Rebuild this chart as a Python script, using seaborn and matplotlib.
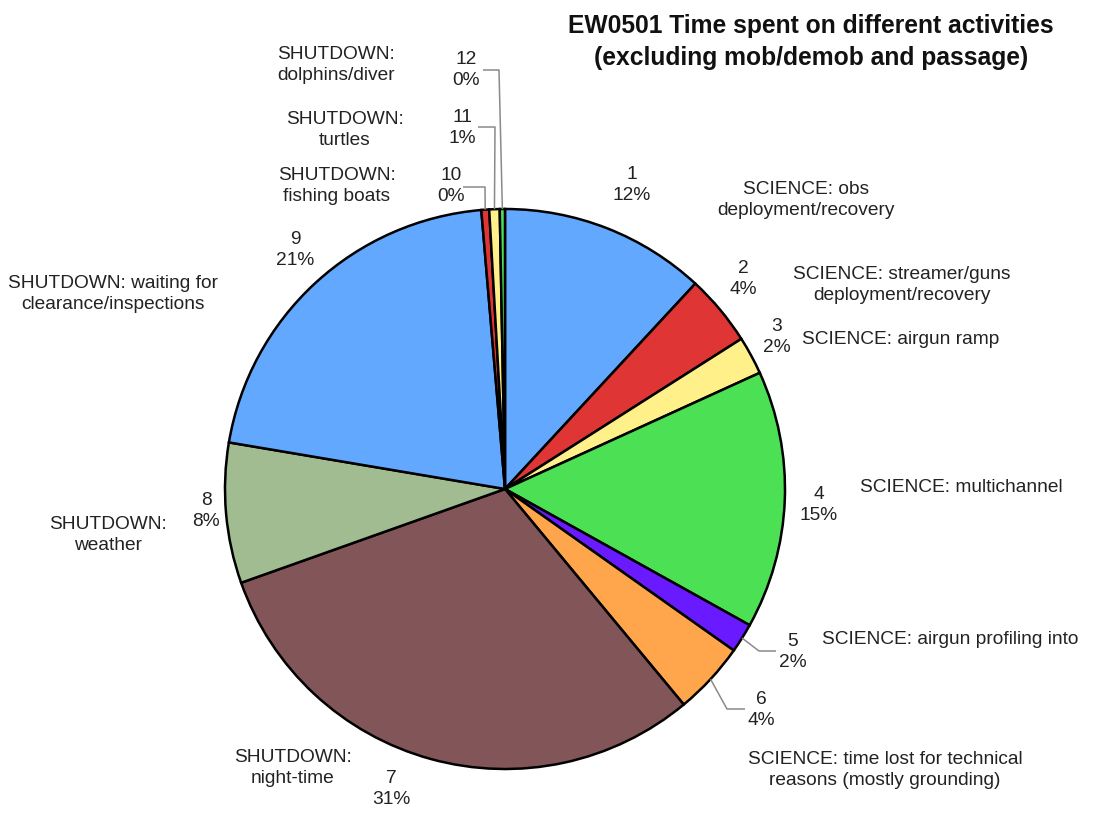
import numpy as np
import matplotlib
matplotlib.use("Agg")
import matplotlib.pyplot as plt
import seaborn as sns

# Activity breakdown for cruise EW0501 (percent of time)
numbers = ["1", "2", "3", "4", "5", "6", "7", "8", "9", "10", "11", "12"]
shares = [11.9, 4.1, 2.2, 14.9, 1.7, 4.2, 30.6, 8.1, 21.0, 0.45, 0.6, 0.3]
categories = [
    "SCIENCE: obs\ndeployment/recovery",
    "SCIENCE: streamer/guns\ndeployment/recovery",
    "SCIENCE: airgun ramp",
    "SCIENCE: multichannel",
    "SCIENCE: airgun profiling into",
    "SCIENCE: time lost for technical\nreasons (mostly grounding)",
    "SHUTDOWN:\nnight-time",
    "SHUTDOWN:\nweather",
    "SHUTDOWN: waiting for\nclearance/inspections",
    "SHUTDOWN:\nfishing boats",
    "SHUTDOWN:\nturtles",
    "SHUTDOWN:\ndolphins/diver",
]
title = "EW0501 Time spent on different activities\n(excluding mob/demob and passage)"

slice_colors = ["#63A8FF", "#E03535", "#FFF08A", "#4CE054", "#6A1AFF", "#FFA64D",
                "#825559", "#A0BC90", "#63A8FF", "#E03535", "#FFF08A", "#4CE054"]

sns.set_theme(style="white")
plt.rcParams["font.family"] = ["Liberation Sans", "DejaVu Sans"]

W, H = 1112, 821
fig = plt.figure(figsize=(W / 100, H / 100), dpi=100)
ax = fig.add_axes([0, 0, 1, 1])


def py(y):
    # convert a top-down pixel row into the axes' upward coordinate
    return H - y


cx, cy, r = 505, py(489), 280
palette = sns.color_palette(slice_colors)
wedges, _ = ax.pie(shares, colors=palette, startangle=90, counterclock=False,
                   center=(cx, cy), radius=r, frame=True,
                   wedgeprops=dict(edgecolor="black", linewidth=1.8))
ax.set_xlim(0, W)
ax.set_ylim(0, H)
ax.set_aspect("equal")
ax.axis("off")

total = sum(shares)
pct_labels = [f"{n}\n{round(v / total * 100):.0f}%" for n, v in zip(numbers, shares)]

# layout: (x, y) of the number/percent label and of the category label (pixel rows)
num_pos = [(632, 185), (743, 279), (777, 337), (819, 505), (793, 652), (761, 710),
           (391, 789), (206, 511), (295, 250), (451, 186), (462, 128), (466, 70)]
cat_pos = [(806, 200), (902, 285), (901, 339), (961, 487), (950, 640), (885, 770),
           (293, 768), (108, 535), (113, 294), (337, 186), (345, 130), (336, 65)]

fs = 13.8
for (x, y), txt in zip(num_pos, pct_labels):
    ax.text(x, py(y), txt, ha="center", va="center", fontsize=fs,
            color="#222222", linespacing=1.35)
for (x, y), txt in zip(cat_pos, categories):
    ax.text(x, py(y), txt, ha="center", va="center", fontsize=fs,
            color="#222222", linespacing=1.35)


# leader lines for the small wedges
def edge_point(w):
    ang = np.deg2rad((w.theta1 + w.theta2) / 2)
    return cx + r * np.cos(ang), cy + r * np.sin(ang)


leaders = {4: [(776, 651), (759, 651)], 5: [(745, 709), (727, 709)],
           9: [(463, 187), (485, 187)], 10: [(478, 127), (495, 127)],
           11: [(483, 70), (499, 70)]}
for i, pts in leaders.items():
    ex, ey = edge_point(wedges[i])
    xs = [p[0] for p in pts] + [ex]
    ys = [py(p[1]) for p in pts] + [ey]
    ax.plot(xs, ys, color="#8A8A8A", linewidth=1.1, solid_capstyle="butt")

ax.text(811, py(42), title, ha="center", va="center", fontsize=17.7,
        fontweight="bold", color="#111111", linespacing=1.42)

fig.savefig("out.png", dpi=100, facecolor="white")
